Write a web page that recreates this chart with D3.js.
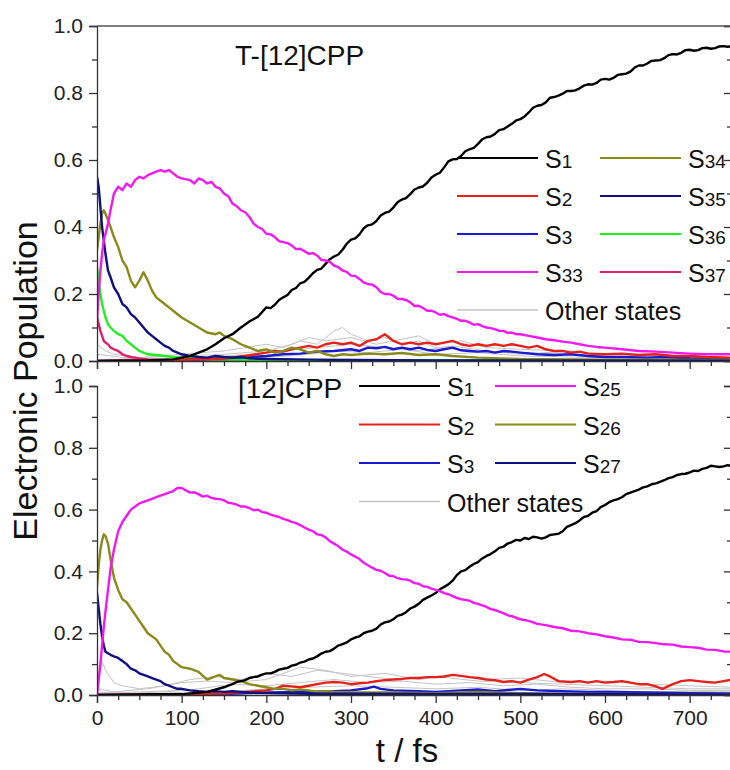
<!DOCTYPE html>
<html>
<head>
<meta charset="utf-8">
<script src="https://cdn.jsdelivr.net/npm/d3@7"></script>
<style>
body { margin: 0; background: #fff; }
svg { font-family: "Liberation Sans", Arial, sans-serif; display: block; }
.axis path, .axis line { stroke: #333; stroke-width: 1.3; }
.axis text { font-size: 21px; fill: #222; }
</style>
</head>
<body>
<svg id="chart" width="730" height="770"></svg>
<script>
// ---- T-[12]CPP (upper panel), [t (fs), population] ----
const s1Top = [[0,0],[60,0.002],[90,0.005],[100,0.01],[110,0.015],[120,0.025],[130,0.035],[140,0.05],[150,0.068],[160,0.08],[170,0.1],[180,0.118],[190,0.132],[200,0.16],[205,0.158],[210,0.168],[215,0.182],[220,0.19],[225,0.197],[230,0.212],[235,0.218],[240,0.232],[245,0.236],[250,0.248],[255,0.262],[260,0.272],[265,0.276],[270,0.29],[275,0.304],[280,0.312],[285,0.318],[290,0.332],[295,0.35],[300,0.362],[305,0.366],[310,0.378],[315,0.396],[320,0.405],[325,0.408],[330,0.418],[335,0.434],[340,0.442],[345,0.446],[350,0.458],[355,0.474],[360,0.482],[365,0.486],[370,0.498],[375,0.512],[380,0.518],[385,0.521],[390,0.532],[395,0.548],[400,0.556],[405,0.562],[410,0.578],[415,0.596],[420,0.602],[425,0.603],[430,0.612],[435,0.626],[440,0.632],[445,0.636],[450,0.648],[455,0.662],[460,0.668],[465,0.67],[470,0.678],[475,0.689],[480,0.692],[485,0.7],[490,0.708],[495,0.718],[500,0.722],[505,0.73],[510,0.742],[515,0.756],[520,0.762],[525,0.764],[530,0.772],[535,0.786],[540,0.788],[545,0.792],[550,0.798],[555,0.806],[560,0.806],[565,0.808],[570,0.814],[575,0.822],[580,0.826],[585,0.825],[590,0.83],[595,0.84],[600,0.842],[605,0.84],[610,0.845],[615,0.854],[620,0.856],[625,0.858],[630,0.864],[635,0.876],[640,0.882],[645,0.882],[650,0.888],[655,0.896],[660,0.897],[665,0.898],[670,0.904],[675,0.913],[680,0.916],[685,0.915],[690,0.92],[695,0.928],[700,0.929],[705,0.926],[710,0.928],[715,0.934],[720,0.935],[725,0.932],[730,0.934],[735,0.939],[740,0.94],[745,0.938],[750,0.94]];
const s2Top = [[0,0],[100,0.003],[150,0.008],[175,0.015],[200,0.025],[210,0.03],[220,0.028],[230,0.035],[240,0.04],[250,0.045],[260,0.04],[270,0.05],[280,0.055],[290,0.05],[300,0.055],[310,0.045],[320,0.06],[330,0.065],[340,0.08],[345,0.07],[350,0.06],[360,0.05],[370,0.055],[380,0.05],[390,0.055],[400,0.05],[410,0.055],[420,0.06],[430,0.05],[440,0.045],[450,0.05],[460,0.045],[470,0.05],[480,0.045],[490,0.05],[500,0.045],[510,0.04],[520,0.045],[530,0.035],[540,0.03],[550,0.03],[560,0.025],[570,0.028],[580,0.022],[600,0.02],[620,0.022],[640,0.018],[660,0.02],[680,0.015],[700,0.015],[720,0.012],[750,0.01]];
const s3Top = [[0,0],[100,0.003],[150,0.008],[200,0.015],[220,0.02],[240,0.022],[260,0.028],[280,0.03],[300,0.035],[310,0.03],[320,0.04],[330,0.038],[340,0.042],[350,0.035],[360,0.04],[370,0.035],[380,0.04],[390,0.033],[400,0.03],[410,0.035],[420,0.04],[430,0.032],[440,0.03],[450,0.028],[460,0.03],[470,0.025],[480,0.03],[490,0.028],[500,0.025],[520,0.02],[540,0.018],[560,0.02],[580,0.015],[600,0.012],[620,0.012],[650,0.01],[670,0.012],[700,0.008],[750,0.006]];
const s33Top = [[0,0.12],[2,0.2],[4,0.27],[6,0.32],[8,0.36],[10,0.38],[13,0.41],[16,0.45],[20,0.5],[25,0.52],[30,0.51],[35,0.53],[40,0.52],[45,0.54],[50,0.55],[55,0.545],[60,0.555],[65,0.56],[70,0.565],[75,0.57],[80,0.565],[85,0.57],[90,0.56],[95,0.55],[100,0.545],[110,0.54],[115,0.53],[120,0.545],[125,0.54],[130,0.53],[135,0.535],[140,0.52],[145,0.515],[150,0.5],[155,0.492],[160,0.47],[165,0.462],[170,0.45],[175,0.444],[180,0.43],[185,0.41],[190,0.4],[195,0.394],[200,0.38],[205,0.378],[210,0.37],[215,0.358],[220,0.355],[225,0.352],[230,0.345],[235,0.334],[240,0.335],[245,0.328],[250,0.32],[255,0.322],[260,0.315],[265,0.302],[270,0.3],[275,0.296],[280,0.285],[285,0.28],[290,0.27],[295,0.266],[300,0.255],[305,0.254],[310,0.245],[315,0.234],[320,0.23],[325,0.228],[330,0.22],[335,0.206],[340,0.2],[345,0.2],[350,0.195],[355,0.186],[360,0.185],[365,0.182],[370,0.175],[375,0.164],[380,0.165],[385,0.158],[390,0.15],[395,0.15],[400,0.145],[405,0.138],[410,0.14],[415,0.134],[420,0.13],[425,0.126],[430,0.12],[435,0.12],[440,0.115],[445,0.108],[450,0.11],[455,0.104],[460,0.1],[465,0.098],[470,0.095],[475,0.09],[480,0.09],[485,0.084],[490,0.085],[495,0.08],[500,0.08],[510,0.075],[520,0.07],[530,0.065],[540,0.062],[550,0.058],[560,0.055],[570,0.05],[580,0.045],[590,0.042],[600,0.04],[620,0.035],[640,0.03],[660,0.028],[680,0.025],[700,0.022],[720,0.02],[750,0.02]];
const s34Top = [[0,0.33],[2,0.37],[4,0.41],[6,0.44],[8,0.45],[10,0.44],[13,0.42],[16,0.4],[20,0.37],[25,0.34],[30,0.3],[35,0.28],[40,0.24],[45,0.22],[50,0.24],[55,0.265],[60,0.24],[65,0.21],[70,0.19],[75,0.18],[80,0.17],[85,0.16],[90,0.15],[100,0.13],[110,0.115],[120,0.1],[130,0.085],[140,0.08],[145,0.085],[150,0.075],[160,0.065],[170,0.05],[180,0.04],[190,0.03],[200,0.035],[210,0.025],[220,0.03],[230,0.04],[240,0.035],[250,0.025],[260,0.03],[270,0.02],[280,0.015],[290,0.02],[300,0.018],[320,0.022],[340,0.02],[360,0.024],[380,0.018],[400,0.02],[420,0.015],[450,0.01],[500,0.006],[600,0.004],[750,0.003]];
const s35Top = [[0,0.55],[2,0.52],[4,0.46],[6,0.4],[8,0.36],[10,0.32],[13,0.27],[16,0.25],[20,0.22],[25,0.2],[30,0.17],[35,0.16],[40,0.14],[45,0.13],[50,0.115],[55,0.1],[60,0.085],[65,0.075],[70,0.065],[75,0.055],[80,0.045],[85,0.04],[90,0.03],[95,0.025],[100,0.02],[110,0.015],[120,0.012],[130,0.01],[140,0.015],[150,0.012],[160,0.01],[170,0.012],[180,0.008],[200,0.006],[250,0.004],[300,0.003],[400,0.002],[750,0.001]];
const s36Top = [[0,0.28],[2,0.24],[4,0.2],[6,0.17],[8,0.15],[10,0.13],[13,0.11],[16,0.1],[20,0.09],[25,0.08],[30,0.075],[35,0.06],[40,0.05],[45,0.04],[50,0.03],[55,0.025],[60,0.02],[70,0.018],[80,0.015],[90,0.012],[100,0.01],[120,0.006],[150,0.004],[200,0.003],[750,0.001]];
const s37Top = [[0,0.13],[2,0.11],[4,0.09],[6,0.075],[8,0.06],[10,0.055],[13,0.05],[16,0.04],[20,0.035],[25,0.03],[30,0.02],[35,0.015],[40,0.012],[50,0.008],[60,0.005],[80,0.003],[100,0.002],[750,0.001]];
const othersTop = [
  [[0,0],[50,0.01],[100,0.02],[150,0.03],[200,0.05],[220,0.04],[240,0.06],[260,0.05],[280,0.09],[290,0.1],[300,0.08],[320,0.06],[340,0.07],[360,0.05],[380,0.06],[400,0.04],[450,0.03],[500,0.025],[550,0.02],[600,0.015],[650,0.012],[700,0.01],[750,0.008]],
  [[0,0.05],[10,0.03],[20,0.02],[50,0.01],[100,0.015],[150,0.02],[200,0.03],[230,0.05],[250,0.07],[270,0.06],[300,0.07],[330,0.05],[350,0.06],[380,0.075],[400,0.05],[430,0.06],[460,0.04],[500,0.035],[550,0.03],[600,0.02],[650,0.02],[700,0.015],[750,0.01]],
  [[0,0.02],[50,0.005],[120,0.01],[180,0.02],[220,0.03],[260,0.04],[300,0.05],[340,0.04],[380,0.03],[420,0.045],[460,0.03],[500,0.02],[560,0.03],[600,0.02],[650,0.015],[700,0.012],[750,0.01]],
  [[0,0],[100,0.005],[200,0.01],[250,0.02],[280,0.03],[320,0.025],[360,0.035],[400,0.02],[450,0.025],[500,0.015],[600,0.01],[750,0.005]]
];

// ---- [12]CPP (lower panel) ----
const s1Bot = [[0,0],[100,0.003],[130,0.01],[150,0.025],[155,0.03],[160,0.035],[165,0.042],[170,0.045],[175,0.048],[180,0.055],[185,0.058],[190,0.06],[195,0.066],[200,0.07],[205,0.07],[210,0.075],[215,0.082],[220,0.085],[225,0.088],[230,0.095],[235,0.098],[240,0.105],[245,0.108],[250,0.115],[255,0.118],[260,0.125],[265,0.134],[270,0.14],[275,0.142],[280,0.15],[285,0.16],[290,0.165],[295,0.17],[300,0.18],[305,0.186],[310,0.19],[315,0.2],[320,0.205],[325,0.208],[330,0.215],[335,0.228],[340,0.235],[345,0.238],[350,0.245],[355,0.256],[360,0.26],[365,0.268],[370,0.28],[375,0.286],[380,0.295],[385,0.308],[390,0.315],[395,0.322],[400,0.33],[405,0.342],[410,0.35],[415,0.358],[420,0.37],[425,0.388],[430,0.4],[435,0.404],[440,0.415],[445,0.424],[450,0.43],[455,0.442],[460,0.45],[465,0.456],[470,0.465],[475,0.476],[480,0.48],[485,0.49],[490,0.495],[495,0.502],[500,0.5],[505,0.508],[510,0.505],[515,0.512],[520,0.51],[525,0.506],[530,0.51],[535,0.518],[540,0.52],[545,0.522],[550,0.53],[555,0.544],[560,0.55],[565,0.556],[570,0.565],[575,0.576],[580,0.58],[585,0.59],[590,0.595],[595,0.608],[600,0.615],[605,0.624],[610,0.63],[615,0.634],[620,0.64],[625,0.65],[630,0.655],[635,0.66],[640,0.665],[645,0.672],[650,0.675],[655,0.682],[660,0.685],[665,0.69],[670,0.695],[675,0.702],[680,0.705],[685,0.712],[690,0.715],[695,0.716],[700,0.72],[705,0.726],[710,0.725],[715,0.732],[720,0.735],[725,0.742],[730,0.74],[735,0.738],[740,0.74],[745,0.744],[750,0.74]];
const s2Bot = [[0,0],[100,0.002],[150,0.005],[175,0.01],[200,0.015],[210,0.02],[220,0.03],[230,0.028],[240,0.025],[250,0.03],[260,0.035],[270,0.04],[280,0.042],[290,0.04],[300,0.035],[310,0.038],[320,0.04],[330,0.045],[340,0.048],[350,0.05],[360,0.052],[370,0.055],[380,0.055],[390,0.058],[400,0.058],[410,0.06],[420,0.065],[430,0.062],[440,0.058],[450,0.055],[460,0.05],[470,0.048],[480,0.042],[490,0.045],[500,0.04],[510,0.05],[520,0.058],[528,0.068],[535,0.06],[545,0.045],[560,0.042],[570,0.045],[580,0.04],[590,0.045],[600,0.04],[610,0.042],[620,0.045],[630,0.04],[640,0.035],[650,0.035],[660,0.028],[668,0.02],[680,0.035],[690,0.045],[700,0.048],[710,0.045],[720,0.042],[730,0.04],[740,0.045],[750,0.05]];
const s3Bot = [[0,0],[150,0.003],[200,0.008],[250,0.01],[280,0.012],[300,0.015],[320,0.022],[327,0.027],[335,0.02],[350,0.015],[380,0.012],[400,0.01],[430,0.015],[450,0.018],[470,0.012],[500,0.02],[520,0.015],[550,0.012],[580,0.01],[600,0.01],[650,0.008],[700,0.006],[750,0.005]];
const s25Bot = [[0,0],[2,0.05],[4,0.1],[6,0.16],[8,0.22],[10,0.27],[13,0.34],[16,0.41],[20,0.47],[25,0.53],[30,0.56],[35,0.58],[40,0.6],[45,0.61],[50,0.62],[55,0.625],[60,0.63],[65,0.635],[70,0.64],[75,0.645],[80,0.65],[85,0.655],[90,0.66],[95,0.67],[100,0.67],[105,0.662],[110,0.655],[115,0.656],[120,0.65],[125,0.642],[130,0.645],[135,0.638],[140,0.635],[145,0.634],[150,0.63],[155,0.622],[160,0.62],[165,0.616],[170,0.61],[175,0.61],[180,0.605],[185,0.598],[190,0.6],[195,0.592],[200,0.59],[205,0.584],[210,0.58],[215,0.576],[220,0.57],[225,0.566],[230,0.56],[235,0.556],[240,0.55],[245,0.542],[250,0.535],[255,0.53],[260,0.52],[265,0.518],[270,0.51],[275,0.498],[280,0.49],[285,0.482],[290,0.47],[295,0.464],[300,0.455],[305,0.448],[310,0.44],[315,0.428],[320,0.42],[325,0.412],[330,0.405],[335,0.402],[340,0.395],[345,0.386],[350,0.385],[355,0.378],[360,0.375],[365,0.374],[370,0.37],[375,0.362],[380,0.36],[385,0.352],[390,0.35],[395,0.344],[400,0.34],[405,0.336],[410,0.33],[415,0.326],[420,0.32],[425,0.314],[430,0.31],[435,0.308],[440,0.305],[445,0.298],[450,0.295],[455,0.29],[460,0.285],[465,0.278],[470,0.275],[475,0.27],[480,0.265],[485,0.258],[490,0.255],[495,0.25],[500,0.245],[510,0.24],[520,0.23],[530,0.226],[540,0.22],[550,0.216],[560,0.208],[570,0.206],[580,0.2],[590,0.196],[600,0.19],[610,0.186],[620,0.18],[630,0.179],[640,0.172],[650,0.171],[660,0.168],[670,0.164],[680,0.163],[690,0.157],[700,0.155],[710,0.153],[720,0.147],[730,0.146],[740,0.141],[750,0.14]];
const s26Bot = [[0,0.35],[2,0.42],[4,0.47],[6,0.5],[8,0.52],[10,0.515],[13,0.49],[16,0.44],[20,0.38],[25,0.34],[30,0.31],[35,0.3],[40,0.28],[45,0.26],[50,0.24],[55,0.22],[60,0.2],[65,0.19],[70,0.18],[75,0.16],[80,0.14],[85,0.13],[90,0.11],[95,0.1],[100,0.09],[110,0.085],[120,0.075],[130,0.05],[140,0.06],[145,0.065],[150,0.055],[160,0.05],[170,0.045],[180,0.035],[190,0.03],[200,0.025],[210,0.02],[220,0.02],[230,0.015],[240,0.018],[250,0.015],[260,0.01],[270,0.012],[280,0.01],[300,0.008],[350,0.008],[400,0.006],[450,0.01],[500,0.006],[550,0.004],[600,0.003],[750,0.002]];
const s27Bot = [[0,0.33],[2,0.28],[4,0.23],[6,0.19],[8,0.16],[10,0.14],[13,0.135],[16,0.13],[20,0.125],[25,0.12],[30,0.11],[35,0.1],[40,0.085],[45,0.08],[50,0.07],[55,0.065],[60,0.06],[65,0.055],[70,0.05],[75,0.045],[80,0.035],[85,0.03],[90,0.025],[95,0.02],[100,0.02],[110,0.015],[120,0.012],[130,0.01],[140,0.012],[150,0.01],[160,0.012],[170,0.01],[180,0.008],[200,0.006],[250,0.004],[300,0.004],[400,0.003],[500,0.003],[750,0.002]];
const othersBot = [
  [[0,0],[3,0.06],[6,0.11],[10,0.08],[20,0.04],[30,0.03],[50,0.02],[80,0.03],[110,0.05],[140,0.06],[170,0.05],[200,0.07],[230,0.06],[260,0.08],[290,0.07],[320,0.06],[350,0.05],[400,0.06],[450,0.045],[500,0.04],[550,0.035],[600,0.03],[650,0.025],[700,0.02],[750,0.02]],
  [[0,0.02],[20,0.01],[60,0.02],[100,0.04],[130,0.045],[160,0.04],[200,0.05],[240,0.09],[270,0.08],[300,0.06],[340,0.07],[380,0.05],[420,0.065],[460,0.05],[500,0.055],[550,0.04],[600,0.045],[650,0.035],[700,0.03],[750,0.025]],
  [[0,0.01],[30,0.005],[80,0.01],[120,0.02],[160,0.035],[200,0.03],[240,0.04],[280,0.05],[320,0.04],[360,0.045],[400,0.035],[440,0.04],[480,0.03],[520,0.035],[560,0.025],[600,0.02],[650,0.02],[700,0.015],[750,0.015]],
  [[0,0.005],[50,0.01],[100,0.015],[150,0.01],[200,0.02],[250,0.025],[300,0.03],[350,0.025],[400,0.02],[450,0.025],[500,0.015],[550,0.02],[600,0.015],[650,0.01],[700,0.012],[750,0.01]]
];

const xMajor = [0, 100, 200, 300, 400, 500, 600, 700];
const yMajor = [0, 0.2, 0.4, 0.6, 0.8, 1.0];

// colours by state name
const colorOf = {
  S1: "#000000", S2: "#e3221c", S3: "#1a1ad0",
  S33: "#f01af0", S34: "#8a8a1c", S35: "#10107e", S36: "#22ee22", S37: "#e0206e",
  S25: "#f01af0", S26: "#8a8a1c", S27: "#10107e", other: "#c4c4c4"
};

const svg = d3.select("#chart");
const x = d3.scaleLinear().domain([0, 750]).range([97, 732]);

const panels = [
  {
    id: "top", title: "T-[12]CPP",
    y: d3.scaleLinear().domain([0, 1]).range([361, 26]),
    others: othersTop,
    series: [["S37", s37Top], ["S36", s36Top], ["S3", s3Top], ["S2", s2Top], ["S34", s34Top], ["S35", s35Top], ["S1", s1Top], ["S33", s33Top]],
    legendCols: [["S1", "S2", "S3", "S33", "other"], ["S34", "S35", "S36", "S37"]],
    legend: { y0: 158, dy: 38, cols: [457, 600] },
    titlePos: [235, 65], frame: true
  },
  {
    id: "bot", title: "[12]CPP",
    y: d3.scaleLinear().domain([0, 1]).range([695, 386]),
    others: othersBot,
    series: [["S3", s3Bot], ["S2", s2Bot], ["S26", s26Bot], ["S27", s27Bot], ["S1", s1Bot], ["S25", s25Bot]],
    legendCols: [["S1", "S2", "S3", "other"], ["S25", "S26", "S27"]],
    legend: { y0: 386, dy: 38.5, cols: [359, 495] },
    titlePos: [238, 398], frame: false
  }
];

panels.forEach((p, pi) => {
  const y = p.y;
  const [y0, y1] = y.range();

  svg.append("clipPath").attr("id", "clip-" + p.id)
    .append("rect")
    .attr("x", x.range()[0]).attr("y", y1 - 2)
    .attr("width", x.range()[1] - x.range()[0]).attr("height", y0 - y1 + 2);

  const line = d3.line().x(d => x(d[0])).y(d => y(d[1]));
  const g = svg.append("g").attr("clip-path", `url(#clip-${p.id})`);

  g.selectAll(".other")
    .data(p.others)
    .join("path")
    .attr("class", "other")
    .attr("fill", "none")
    .attr("stroke", colorOf.other)
    .attr("stroke-width", 1)
    .attr("d", line);

  g.selectAll(".state")
    .data(p.series)
    .join("path")
    .attr("class", "state")
    .attr("fill", "none")
    .attr("stroke", d => colorOf[d[0]])
    .attr("stroke-width", 2.4)
    .attr("stroke-linejoin", "round")
    .attr("d", d => line(d[1]));

  // axes
  const isLast = pi === panels.length - 1;
  const xAxis = d3.axisBottom(x).tickValues(xMajor).tickSize(8).tickPadding(7)
    .tickFormat(isLast ? d3.format("d") : () => "");
  svg.append("g").attr("class", "axis")
    .attr("transform", `translate(0,${y0})`)
    .call(xAxis);
  svg.append("g").attr("class", "axis")
    .attr("transform", `translate(0,${y0})`)
    .call(d3.axisBottom(x).tickValues(d3.range(25, 750, 25).filter(v => v % 100)).tickSize(5).tickFormat(""))
    .select(".domain").remove();

  svg.append("g").attr("class", "axis")
    .attr("transform", `translate(${x.range()[0]},0)`)
    .call(d3.axisLeft(y).tickValues(yMajor).tickSize(8).tickPadding(6).tickFormat(d3.format(".1f")));
  svg.append("g").attr("class", "axis")
    .attr("transform", `translate(${x.range()[0]},0)`)
    .call(d3.axisLeft(y).tickValues([0.1, 0.3, 0.5, 0.7, 0.9]).tickSize(5).tickFormat(""))
    .select(".domain").remove();

  // right axis, ticks inward
  svg.append("g").attr("class", "axis")
    .attr("transform", `translate(${x.range()[1]},0)`)
    .call(d3.axisRight(y).tickValues(yMajor).tickSize(-8).tickFormat(""));
  svg.append("g").attr("class", "axis")
    .attr("transform", `translate(${x.range()[1]},0)`)
    .call(d3.axisRight(y).tickValues([0.1, 0.3, 0.5, 0.7, 0.9]).tickSize(-5).tickFormat(""))
    .select(".domain").remove();

  if (p.frame) {
    svg.append("line")
      .attr("x1", x.range()[0]).attr("x2", x.range()[1])
      .attr("y1", y1).attr("y2", y1)
      .attr("stroke", "#555").attr("stroke-width", 1.3);
  }

  svg.append("text")
    .attr("x", p.titlePos[0]).attr("y", p.titlePos[1])
    .attr("font-size", 28).attr("fill", "#111")
    .text(p.title);

  // legend
  p.legendCols.forEach((col, ci) => {
    col.forEach((name, ri) => {
      const ly = p.legend.y0 + ri * p.legend.dy;
      const lx = p.legend.cols[ci];
      svg.append("line")
        .attr("x1", lx).attr("x2", lx + 81)
        .attr("y1", ly).attr("y2", ly)
        .attr("stroke", colorOf[name])
        .attr("stroke-width", name === "other" ? 1.5 : 2.2);
      const t = svg.append("text")
        .attr("x", lx + 88).attr("y", ly + 10)
        .attr("font-size", 25).attr("fill", "#111");
      if (name === "other") {
        t.text("Other states");
      } else {
        t.append("tspan").text("S");
        t.append("tspan").attr("font-size", 19).text(name.slice(1));
      }
    });
  });
});

svg.append("text")
  .attr("transform", "translate(37,381) rotate(-90)")
  .attr("text-anchor", "middle")
  .attr("font-size", 34).attr("fill", "#111")
  .text("Electronic Population");

svg.append("text")
  .attr("x", 407).attr("y", 762)
  .attr("text-anchor", "middle")
  .attr("font-size", 33).attr("fill", "#111")
  .text("t / fs");
</script>
</body>
</html>
